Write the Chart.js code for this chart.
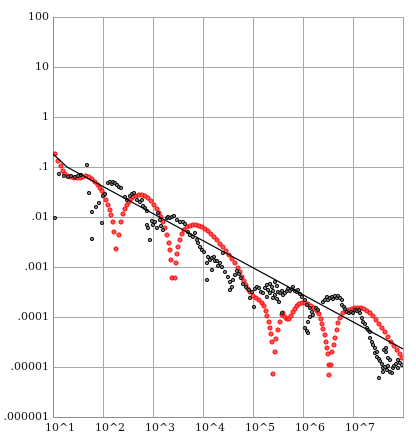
<!DOCTYPE html>
<html>
<head>
<meta charset="utf-8">
<script src="https://cdn.jsdelivr.net/npm/chart.js@4/dist/chart.umd.min.js"></script>
<style>
html,body{margin:0;padding:0;background:#fff;}
canvas{display:block;}
</style>
</head>
<body>
<canvas id="c" width="416" height="443"></canvas>
<script>
// Values, written as powers of ten (decades): value = 10^exponent
const xTickValues = [1e1, 1e2, 1e3, 1e4, 1e5, 1e6, 1e7, 1e8];
const xTickLabels = ['10^1', '10^2', '10^3', '10^4', '10^5', '10^6', '10^7', ''];
const yTickValues = [1e-6, 1e-5, 1e-4, 1e-3, 1e-2, 1e-1, 1, 10, 100];
const yTickLabels = ['.000001', '.00001', '.0001', '.001', '.01', '.1', '1', '10', '100'];

// black trend line (exponents)
const lineLogX = [1.00, 1.28, 8.00];
const lineLogY = [-0.74, -1.00, -4.64];

// red series (exponents)
const redLogX = [1.04,1.10,1.16,1.20,1.24,1.30,1.36,1.42,1.48,1.54,1.60,1.66,1.72,1.78,1.84,1.90,1.94,1.98,2.02,2.06,2.10,2.14,2.16,2.20,2.22,2.26,
2.32,2.36,2.40,2.44,2.48,2.52,2.56,2.60,2.66,2.72,2.78,2.84,2.90,2.96,3.02,3.08,3.12,3.16,3.20,3.24,3.28,3.32,3.34,3.36,3.38,
3.44,3.46,3.48,3.50,3.54,3.58,3.62,3.68,3.74,3.80,3.86,3.92,3.98,4.04,4.10,4.16,4.22,4.28,4.34,4.40,4.46,4.52,4.58,4.64,4.70,4.74,4.78,4.82,4.86,4.90,4.94,5.00,5.06,5.12,5.18,5.22,5.26,5.28,5.32,5.34,5.36,5.38,5.40,
5.44,5.46,5.50,5.54,5.58,5.60,5.64,5.68,5.72,5.76,5.80,5.84,5.88,5.92,5.98,6.04,6.10,6.16,6.22,6.28,6.32,6.36,6.38,6.40,6.44,6.46,6.48,6.50,6.52,6.52,
6.56,6.58,6.62,6.64,6.68,6.70,6.74,6.80,6.86,6.92,6.98,7.04,7.10,7.16,7.22,7.28,7.34,7.40,7.46,7.52,7.58,7.64,7.70,7.76,7.82,7.88,7.94,7.98];
const redLogY = [-0.74,-0.88,-0.98,-1.08,-1.14,-1.18,-1.20,-1.22,-1.22,-1.22,-1.20,-1.18,-1.20,-1.24,-1.30,-1.36,-1.42,-1.48,-1.56,-1.66,-1.76,-1.86,-1.96,-2.10,-2.30,-2.64,
-2.36,-2.10,-1.94,-1.84,-1.76,-1.70,-1.64,-1.60,-1.58,-1.56,-1.56,-1.58,-1.62,-1.68,-1.76,-1.84,-1.92,-2.00,-2.10,-2.22,-2.36,-2.52,-2.66,-2.86,-3.22,
-3.22,-2.92,-2.74,-2.60,-2.46,-2.34,-2.26,-2.20,-2.18,-2.16,-2.16,-2.18,-2.20,-2.24,-2.28,-2.34,-2.40,-2.46,-2.54,-2.60,-2.68,-2.76,-2.84,-2.92,-3.02,-3.10,-3.20,-3.28,-3.36,-3.44,-3.50,-3.58,-3.62,-3.66,-3.72,-3.78,-3.88,-3.98,-4.10,-4.22,-4.34,-4.50,-5.14,
-4.70,-4.44,-4.26,-4.10,-3.96,-3.92,-4.00,-4.04,-4.04,-3.98,-3.90,-3.84,-3.78,-3.74,-3.72,-3.72,-3.74,-3.78,-3.82,-3.88,-3.94,-4.04,-4.14,-4.24,-4.36,-4.50,-4.62,-4.74,-4.96,-5.16,
-4.96,-4.70,-4.56,-4.42,-4.26,-4.12,-4.02,-3.92,-3.88,-3.86,-3.84,-3.82,-3.82,-3.82,-3.84,-3.88,-3.92,-3.98,-4.06,-4.14,-4.22,-4.30,-4.40,-4.50,-4.58,-4.66,-4.74,-4.82];

// black series (exponents)
const blackLogX = [1.04,1.12,1.22,1.30,1.36,1.44,1.50,1.56,1.68,1.72,1.78,1.86,1.92,1.78,1.98,2.00,2.04,2.10,2.14,2.18,2.20,2.24,2.28,2.32,2.36,
2.44,2.48,2.54,2.58,2.62,2.68,2.74,2.78,2.80,2.84,2.88,2.88,2.90,2.94,2.98,3.00,3.04,3.08,3.10,3.14,3.16,3.20,3.28,3.30,3.34,3.38,3.42,3.48,3.54,3.60,3.64,
3.70,3.74,3.80,3.84,3.88,3.90,3.94,3.98,4.02,4.08,4.10,4.14,4.18,4.22,4.24,4.28,4.30,4.34,4.38,4.40,4.18,4.08,4.44,4.50,4.54,4.58,4.54,4.60,4.64,4.68,4.72,4.76,4.80,4.86,4.92,4.94,4.98,5.02,
5.04,5.08,5.12,5.16,5.20,5.24,5.28,5.28,5.30,5.34,5.34,5.38,5.40,5.40,5.44,5.44,5.48,5.48,5.50,5.52,5.54,5.58,5.60,5.64,5.68,5.70,5.74,5.78,5.80,5.84,5.88,5.90,5.94,5.98,5.58,
6.04,6.08,6.14,6.18,6.20,6.14,6.10,6.04,6.08,6.10,6.26,6.30,6.40,6.44,6.48,6.50,6.54,6.58,6.60,6.64,6.68,6.70,6.74,6.78,6.78,6.82,6.84,6.88,6.92,6.96,7.00,7.04,7.08,7.12,7.14,
7.18,7.20,7.24,7.28,7.30,7.34,7.34,7.38,7.40,7.44,7.44,7.48,7.48,7.52,7.54,7.58,7.60,7.62,7.66,7.66,7.64,7.68,7.70,7.74,7.74,7.78,7.80,7.82,7.86,7.90,7.90,7.94,7.98,7.52,7.60,7.70];
const blackLogY = [-2.02,-1.14,-1.18,-1.20,-1.18,-1.20,-1.18,-1.16,-0.96,-1.52,-1.90,-1.80,-1.72,-2.44,-2.12,-1.58,-1.54,-1.32,-1.30,-1.34,-1.30,-1.32,-1.36,-1.40,-1.42,
-1.60,-1.66,-1.58,-1.54,-1.52,-1.66,-1.70,-1.66,-1.78,-1.82,-1.88,-2.16,-2.22,-2.46,-2.08,-2.16,-2.10,-2.22,-1.92,-2.06,-2.18,-2.26,-2.02,-2.00,-2.02,-2.00,-1.98,-2.06,-2.10,-2.10,-2.14,
-2.30,-2.36,-2.40,-2.32,-2.46,-2.52,-2.60,-2.66,-2.70,-2.92,-2.80,-2.86,-2.82,-2.80,-2.88,-2.88,-2.98,-2.92,-3.00,-2.72,-3.06,-3.26,-3.10,-3.20,-3.30,-3.40,-3.46,-3.26,-3.16,-3.08,-3.14,-3.22,-3.34,-3.40,-3.46,-3.62,-3.50,-3.80,
-3.44,-3.40,-3.42,-3.50,-3.52,-3.42,-3.36,-3.60,-3.46,-3.52,-3.34,-3.40,-3.48,-3.62,-3.30,-3.56,-3.38,-3.64,-3.50,-3.70,-3.52,-3.48,-3.56,-3.52,-3.48,-3.44,-3.48,-3.44,-3.40,-3.48,-3.50,-3.46,-3.54,-3.60,-3.92,
-3.66,-3.76,-3.82,-3.90,-3.96,-4.00,-4.10,-4.22,-4.28,-4.32,-3.82,-3.86,-3.70,-3.66,-3.60,-3.66,-3.62,-3.60,-3.64,-3.58,-3.62,-3.58,-3.62,-3.66,-3.76,-3.80,-3.84,-3.90,-3.92,-3.90,-3.92,-3.86,-3.88,-3.86,-3.92,
-4.02,-4.10,-4.14,-4.22,-4.26,-4.30,-4.42,-4.50,-4.56,-4.62,-4.72,-4.70,-4.80,-4.84,-4.88,-4.94,-5.02,-4.66,-4.62,-4.70,-5.00,-5.06,-4.98,-4.86,-5.10,-5.12,-5.02,-4.98,-4.94,-5.02,-4.86,-4.92,-4.96,-5.22,-5.10,-4.82];

const toPoints = (lx, ly) => lx.map((e, i) => ({ x: Math.pow(10, e), y: Math.pow(10, ly[i]) }));

const FONT = { family: 'DejaVu Serif', size: 11 };

new Chart(document.getElementById('c'), {
  type: 'scatter',
  data: {
    datasets: [
      {
        type: 'line',
        data: toPoints(lineLogX, lineLogY),
        borderColor: '#000',
        borderWidth: 1.2,
        pointRadius: 0,
        fill: false,
        order: 0
      },
      {
        data: toPoints(blackLogX, blackLogY),
        pointRadius: 1.7,
        borderWidth: 1,
        borderColor: '#111',
        backgroundColor: 'rgba(90,90,90,0.8)',
        order: 1
      },
      {
        data: toPoints(redLogX, redLogY),
        pointRadius: 2.1,
        borderWidth: 1,
        borderColor: '#ff0000',
        backgroundColor: 'rgba(255,70,70,0.9)',
        order: 2
      }
    ]
  },
  options: {
    responsive: false,
    animation: false,
    devicePixelRatio: 1,
    layout: { padding: { top: 17, right: 13, left: 0, bottom: 0 } },
    plugins: { legend: { display: false }, tooltip: { enabled: false } },
    scales: {
      x: {
        type: 'logarithmic',
        position: 'bottom',
        min: 1e1,
        max: 1e8,
        afterBuildTicks: (s) => { s.ticks = xTickValues.map(v => ({ value: v })); },
        afterFit: (s) => { s.height = 26; },
        ticks: {
          autoSkip: false,
          maxRotation: 0,
          padding: 5,
          labelOffset: 7,
          color: '#111',
          font: FONT,
          callback: (v, i) => xTickLabels[i]
        },
        grid: { color: '#a8a8a8', lineWidth: 1, drawTicks: false },
        border: { color: '#8c8c8c' }
      },
      y: {
        type: 'logarithmic',
        position: 'left',
        min: 1e-6,
        max: 100,
        afterBuildTicks: (s) => { s.ticks = yTickValues.map(v => ({ value: v })); },
        afterFit: (s) => { s.width = 53; },
        ticks: {
          autoSkip: false,
          padding: 4,
          color: '#111',
          font: FONT,
          callback: (v, i) => yTickLabels[i]
        },
        grid: { color: '#a8a8a8', lineWidth: 1, drawTicks: false },
        border: { color: '#8c8c8c' }
      }
    }
  }
});
</script>
</body>
</html>
